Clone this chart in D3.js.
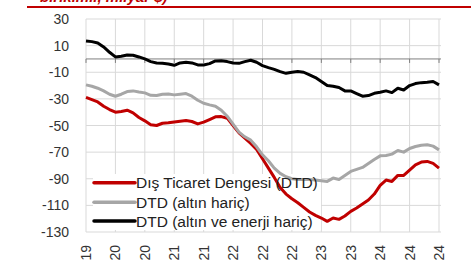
<!DOCTYPE html>
<html>
<head>
<meta charset="utf-8">
<script src="https://cdn.jsdelivr.net/npm/d3@7"></script>
<style>
  body { margin: 0; background: #fff; }
  svg { display: block; font-family: "Liberation Sans", Arial, sans-serif; }
</style>
</head>
<body>
<svg width="471" height="261"></svg>
<script>
// monthly, 12-month cumulative, billion $
const dtd = [-28.8, -30.5, -32.3, -35.5, -38, -40, -39.5, -38.5, -40.5, -44,
    -46.5, -49.5, -50, -48.3, -48, -47.3, -46.8, -46.3, -47, -48.8,
    -47.5, -45.5, -43.5, -43.3, -44.5, -50, -55.5, -59.5, -63.5, -68,
    -75, -82, -89, -96.5, -101.5, -105, -108, -111.5, -115, -117.5,
    -119.5, -122, -119.5, -120.5, -118, -114.5, -112, -109, -106, -101.5,
    -95, -91, -92, -87.5, -87.5, -83.5, -79.5, -77.5, -77, -78.5, -82];
const dtdExGold = [-19.5, -20.5, -22, -24, -26.5, -28, -26.5, -24.5, -24, -24.8,
    -25.5, -27.3, -27.5, -26.5, -26.3, -27, -26.5, -26, -28, -31,
    -33.3, -34.5, -35.5, -38.5, -43, -49, -55, -58.5, -61, -66,
    -72, -76.5, -82, -86, -88.5, -90, -90.5, -90.5, -90.5, -91,
    -91.5, -92, -89.5, -90.5, -87.5, -84.5, -83, -81.5, -78.5, -75.5,
    -72.8, -72.5, -71.5, -68.8, -70, -67.3, -65.8, -64.8, -64.5, -65.5, -68.3];
const dtdExGoldEnergy = [13.5, 13, 12, 9, 5, 1.5, 2, 3, 2.8, 1.5,
    0, -2, -3, -3.3, -3.8, -4.8, -3, -2.5, -3, -4.5,
    -4.5, -3.5, -1.5, -1.3, -2, -3, -3.3, -2, -1, -2.5,
    -5, -6.5, -7.8, -9.5, -10.8, -10, -9.5, -10, -12, -14,
    -17, -20, -20.5, -21.5, -24, -24, -26, -28, -27.5, -25.8,
    -25, -24, -25.3, -22, -23.3, -20, -18.5, -17.8, -17.5, -17, -19.5];

const seriesNames = ['Dış Ticaret Dengesi (DTD)', 'DTD (altın hariç)', 'DTD (altın ve enerji hariç)'];
const seriesColors = ['#c00000', '#a6a6a6', '#000000'];
const tickLabels = ['19', '20', '20', '21', '21', '22', '22', '22', '23', '23', '24', '24', '24'];
const tickStep = 5;
const yTicks = [30, 10, -10, -30, -50, -70, -90, -110, -130];

const svg = d3.select('svg');

const x = d3.scaleLinear()
    .domain([0, dtd.length - 1])
    .range([86, 439]);

const y = d3.scaleLinear()
    .domain([-130, 30])
    .range([232, 19]);

// title remnant
svg.append('text')
    .attr('x', 40)
    .attr('y', 2)
    .attr('fill', '#c00000')
    .attr('font-size', 15)
    .attr('font-weight', 'bold')
    .attr('font-style', 'italic')
    .text('birikimli, milyar $)');

svg.append('line')
    .attr('x1', 27).attr('x2', 471)
    .attr('y1', 7).attr('y2', 7)
    .attr('stroke', '#c00000')
    .attr('stroke-width', 2);

// gridlines
svg.append('g')
    .selectAll('line')
    .data(yTicks)
    .join('line')
    .attr('x1', 86).attr('x2', 441)
    .attr('y1', d => y(d)).attr('y2', d => y(d))
    .attr('stroke', '#d9d9d9');

svg.append('g')
    .selectAll('line')
    .data(tickLabels)
    .join('line')
    .attr('x1', (d, i) => x(i * tickStep)).attr('x2', (d, i) => x(i * tickStep))
    .attr('y1', y(30)).attr('y2', y(-130))
    .attr('stroke', '#d9d9d9');

// y labels
svg.append('g')
    .selectAll('text')
    .data(yTicks)
    .join('text')
    .attr('x', 69)
    .attr('y', d => y(d) + 5)
    .attr('text-anchor', 'end')
    .attr('font-size', 14)
    .attr('fill', '#333')
    .text(d => d);

// zero axis with ticks
svg.append('line')
    .attr('x1', 86).attr('x2', 441)
    .attr('y1', y(0)).attr('y2', y(0))
    .attr('stroke', '#7f7f7f');

svg.append('g')
    .selectAll('line')
    .data(tickLabels)
    .join('line')
    .attr('x1', (d, i) => x(i * tickStep)).attr('x2', (d, i) => x(i * tickStep))
    .attr('y1', y(0)).attr('y2', y(0) + 4)
    .attr('stroke', '#7f7f7f');

// x labels
svg.append('g')
    .selectAll('text')
    .data(tickLabels)
    .join('text')
    .attr('transform', (d, i) => `translate(${x(i * tickStep) + 5}, 245) rotate(-90)`)
    .attr('text-anchor', 'end')
    .attr('font-size', 14)
    .attr('fill', '#333')
    .text(d => d);

// legend background
svg.append('rect')
    .attr('x', 93).attr('y', 174)
    .attr('width', 228).attr('height', 56)
    .attr('fill', '#fff');

// lines
const line = d3.line()
    .x((d, i) => x(i))
    .y(d => y(d));

[dtd, dtdExGold, dtdExGoldEnergy].forEach((s, k) => {
    svg.append('path')
        .datum(s)
        .attr('fill', 'none')
        .attr('stroke', seriesColors[k])
        .attr('stroke-width', 3)
        .attr('stroke-linejoin', 'round')
        .attr('d', line);
});

// legend
const legendY = [182.7, 202.3, 221];
const lg = svg.append('g');
seriesNames.forEach((name, k) => {
    lg.append('line')
        .attr('x1', 94).attr('x2', 135)
        .attr('y1', legendY[k]).attr('y2', legendY[k])
        .attr('stroke', seriesColors[k])
        .attr('stroke-width', 3.5)
        .attr('stroke-linecap', 'round');
    lg.append('text')
        .attr('x', 136)
        .attr('y', legendY[k] + 5.5)
        .attr('font-size', 15.5)
        .attr('fill', '#222')
        .text(name);
});
</script>
</body>
</html>
